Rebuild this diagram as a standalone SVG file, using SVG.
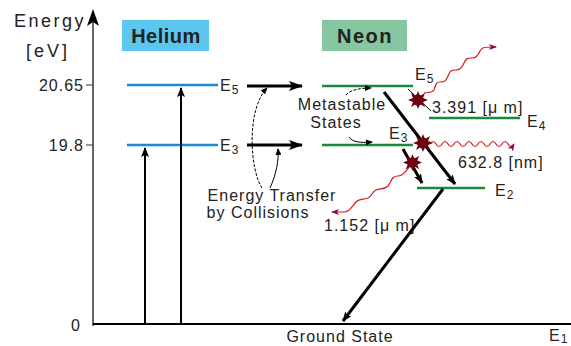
<svg xmlns="http://www.w3.org/2000/svg" width="571" height="346" viewBox="0 0 571 346">
<style>
text{font-family:"Liberation Sans",Arial,sans-serif;fill:#222}
.lbl{font-size:16px;letter-spacing:1px}
.sub{font-size:12px;letter-spacing:0}
.he{stroke:#1a8ad8;stroke-width:2.5}
.ne{stroke:#1a8a3a;stroke-width:2.5}
.thick{stroke:#000;stroke-width:3;fill:none}
.thin{stroke:#000;stroke-width:2;fill:none}
.curve{stroke:#000;stroke-width:1;fill:none}
.wave{stroke:#d81818;stroke-width:1.2;fill:none}
.star{fill:#6e0010}
</style>
<defs>
<marker id="ab" markerWidth="10" markerHeight="8" refX="9" refY="4" orient="auto" markerUnits="userSpaceOnUse"><path d="M0,0 L10,4 L0,8 L2,4 Z" fill="#000"/></marker>
<marker id="abs" markerWidth="14" markerHeight="10" refX="13" refY="5" orient="auto" markerUnits="userSpaceOnUse"><path d="M0,0 L14,5 L0,10 L3,5 Z" fill="#000"/></marker>
<marker id="as" markerWidth="7" markerHeight="6" refX="6" refY="3" orient="auto" markerUnits="userSpaceOnUse"><path d="M0,0 L7,3 L0,6 Z" fill="#000"/></marker>
<marker id="aw" markerWidth="8" markerHeight="6" refX="7" refY="3" orient="auto" markerUnits="userSpaceOnUse"><path d="M0,0 L8,3 L0,6 L2,3 Z" fill="#900050"/></marker>
<symbol id="burst" viewBox="-10 -10 20 20"><path d="M0,-9 L2,-4 L7,-7 L5,-2 L10,0 L5,2 L7,7 L2,4 L0,9 L-2,4 L-7,7 L-5,2 L-10,0 L-5,-2 L-7,-7 L-2,-4 Z" class="star"/><circle r="5.5" class="star"/></symbol>
</defs>

<g id="axes">
<line x1="93" y1="326" x2="93" y2="22" stroke="#333" stroke-width="1.5"/>
<path d="M93,9 L99,26 L93,22 L87,26 Z" fill="#000"/>
<line x1="93" y1="324" x2="571" y2="324" stroke="#000" stroke-width="2"/>
<line x1="86" y1="85" x2="93" y2="85" stroke="#333" stroke-width="1"/>
<line x1="86" y1="145" x2="93" y2="145" stroke="#333" stroke-width="1"/>
<text x="86" y="27" font-size="18" letter-spacing="2.5" text-anchor="end">Energy</text>
<text x="48" y="57" font-size="18" letter-spacing="3" text-anchor="middle">[eV]</text>
<text class="lbl" x="84" y="91" text-anchor="end" letter-spacing="0.5">20.65</text>
<text class="lbl" x="84" y="151" text-anchor="end" letter-spacing="0.5">19.8</text>
<text class="lbl" x="81" y="331" text-anchor="end">0</text>
<text class="lbl" x="340" y="342" text-anchor="middle">Ground State</text>
<text class="lbl" x="549" y="341" letter-spacing="0">E<tspan class="sub" dy="2">1</tspan></text>
</g>

<g id="helium-title"><rect x="122" y="20" width="87" height="31" fill="#5cc6ee"/><text x="166" y="43" font-size="20" font-weight="bold" letter-spacing="0.5" text-anchor="middle" fill="#000">Helium</text></g>
<g id="neon-title"><rect x="322" y="20" width="85" height="31" fill="#86c6a0"/><text x="365" y="43" font-size="20" font-weight="bold" letter-spacing="1.5" text-anchor="middle" fill="#000">Neon</text></g>

<g id="he-E5"><line class="he" x1="127" y1="85" x2="218" y2="85"/><text class="lbl" x="220" y="91">E<tspan class="sub" dy="3">5</tspan></text></g>
<g id="he-E3"><line class="he" x1="127" y1="145" x2="218" y2="145"/><text class="lbl" x="220" y="151">E<tspan class="sub" dy="3">3</tspan></text></g>

<g id="ne-E5"><line class="ne" x1="322" y1="86" x2="413" y2="86"/><text class="lbl" x="415" y="80">E<tspan class="sub" dy="3">5</tspan></text></g>
<g id="ne-E3"><line class="ne" x1="322" y1="145" x2="413" y2="145"/><text class="lbl" x="389" y="139">E<tspan class="sub" dy="3">3</tspan></text></g>
<g id="ne-E4"><line class="ne" x1="429" y1="118" x2="520" y2="118"/><text class="lbl" x="527" y="127">E<tspan class="sub" dy="3">4</tspan></text></g>
<g id="ne-E2"><line class="ne" x1="417" y1="188" x2="485" y2="188"/><text class="lbl" x="495" y="196">E<tspan class="sub" dy="3">2</tspan></text></g>

<g id="labels">
<text class="lbl" x="342" y="110" text-anchor="middle">Metastable</text>
<text class="lbl" x="336" y="128" text-anchor="middle">States</text>
<text class="lbl" x="272" y="201" text-anchor="middle">Energy Transfer</text>
<text class="lbl" x="258" y="218" text-anchor="middle">by Collisions</text>
<text class="lbl" x="432" y="113" letter-spacing="0.6">3.391 [μ m]</text>
<text class="lbl" x="458" y="168">632.8 [nm]</text>
<text class="lbl" x="324" y="231" letter-spacing="0.4">1.152 [μ m]</text>
</g>

<g id="connectors">
<line class="thin" x1="145" y1="324" x2="145" y2="148" marker-end="url(#ab)"/>
<line class="thin" x1="181" y1="324" x2="181" y2="88" marker-end="url(#ab)"/>
<line class="thick" x1="247" y1="86" x2="302" y2="86" marker-end="url(#abs)"/>
<line class="thick" x1="247" y1="145" x2="302" y2="145" marker-end="url(#abs)"/>
<path class="curve" d="M262,188 C250,170 246,110 267,88" stroke-dasharray="3,1.5" marker-end="url(#as)"/>
<path class="curve" d="M270,188 C276,175 279,160 278,149" marker-end="url(#as)"/>
<path class="curve" d="M346,95 C350,90 360,88 371,88" stroke-dasharray="3,1.5" marker-end="url(#as)"/>
<path class="curve" d="M349,137 C352,142 360,143 372,142" marker-end="url(#as)"/>
<line class="thick" x1="384" y1="92" x2="455" y2="184" marker-end="url(#ab)"/>
<line class="thick" x1="403" y1="149" x2="422" y2="183" marker-end="url(#ab)"/>
<line class="thick" x1="443" y1="189" x2="343" y2="321" marker-end="url(#ab)"/>
<line x1="408" y1="89" x2="431" y2="111" stroke="#000" stroke-width="1"/>
<path class="wave" d="M424,93 C430,92 432,93 434,90 C436,84 436,82 440,82 C446,82 446,80 448,76 C450,70 452,70 456,70 C460,70 462,68 464,63 C466,58 468,58 472,58 C476,58 478,56 480,51 C482,47 484,47 496,47" marker-end="url(#aw)"/>
<path class="wave" d="M430,144 q3,-5 6,0 t6,0 t6,0 t6,0 t6,0 t6,0 t6,0 t6,0 t6,0 t6,0 t6,0 t6,0 t6,0 t6,0" marker-end="url(#aw)"/>
<path class="wave" d="M410,166 C406,170 404,176 398,176 C392,176 392,180 388,186 C384,190 380,188 376,190 C372,192 372,196 368,198 C362,200 360,198 356,202 C352,206 350,212 344,212 C340,212 338,212 332,212" marker-end="url(#aw)"/>
<use href="#burst" x="408" y="90" width="20" height="20"/>
<use href="#burst" x="413" y="133" width="20" height="20"/>
<use href="#burst" x="403" y="153" width="19" height="19"/>
</g>
</svg>
